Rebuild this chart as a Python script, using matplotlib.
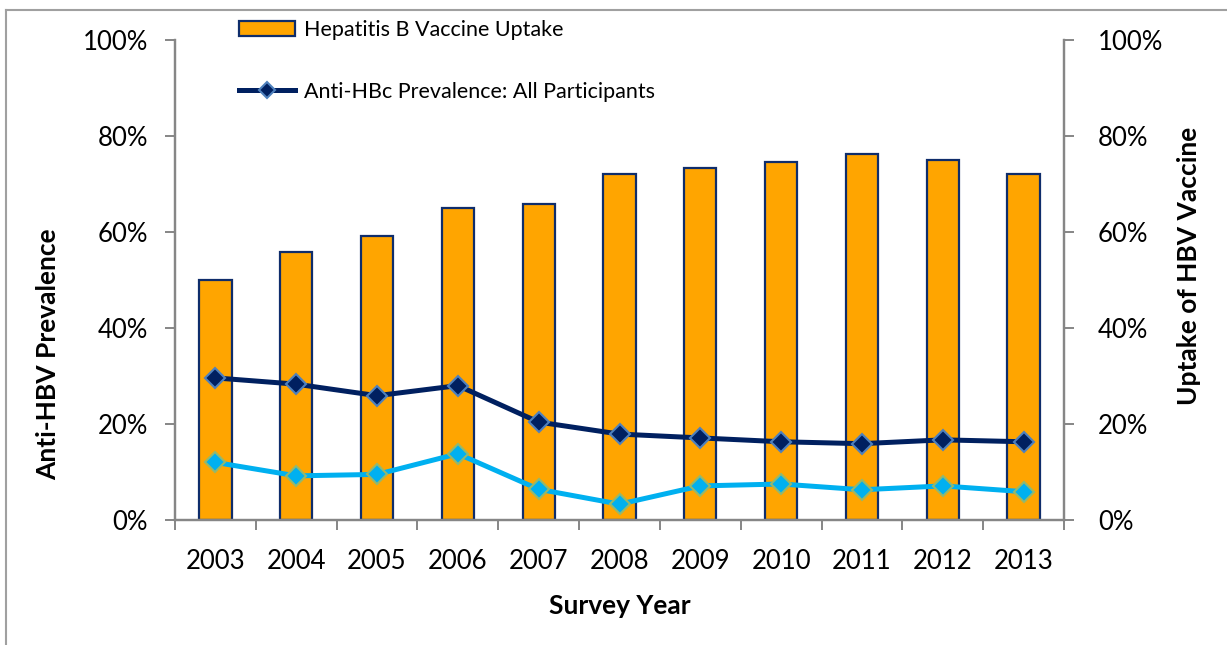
import matplotlib
matplotlib.use("Agg")
import matplotlib.pyplot as plt
from matplotlib.lines import Line2D
from matplotlib.patches import Patch
from matplotlib.ticker import PercentFormatter, FixedLocator
import numpy as np

plt.rcParams['font.family'] = ['Lato', 'DejaVu Sans']

years = ['2003', '2004', '2005', '2006', '2007', '2008', '2009', '2010', '2011', '2012', '2013']
vaccine_uptake = [50.0, 55.8, 59.2, 65.0, 65.9, 72.1, 73.3, 74.6, 76.2, 75.0, 72.1]
anti_hbc_all = [29.6, 28.3, 25.9, 28.0, 20.4, 17.9, 17.1, 16.3, 15.9, 16.7, 16.3]
anti_hbc_other = [12.0, 9.2, 9.5, 13.8, 6.4, 3.3, 7.1, 7.5, 6.3, 7.1, 5.9]

W, H = 1227, 645
fig = plt.figure(figsize=(W / 100, H / 100), dpi=100)
ax = fig.add_axes([175 / W, 1 - 520 / H, (1064 - 175) / W, (520 - 40) / H])
ax2 = ax.twinx()

x = np.arange(len(years))
ax2.bar(x, vaccine_uptake, width=0.4, color='#FFA500', edgecolor='#0F2D6B', linewidth=1.6, zorder=1)

ax.set_zorder(ax2.get_zorder() + 1)
ax.patch.set_visible(False)
ax.plot(x, anti_hbc_all, color='#002060', linewidth=3.6, marker='D', markersize=10,
        markerfacecolor='#002060', markeredgecolor='#4F81BD', markeredgewidth=1.5, zorder=3)
ax.plot(x, anti_hbc_other, color='#00B0F0', linewidth=3.6, marker='D', markersize=10,
        markerfacecolor='#00B0F0', markeredgecolor='#93B86E', markeredgewidth=1.5, zorder=3)

for a, pad in ((ax, 12.5), (ax2, 17.5)):
    a.set_ylim(0, 100)
    a.set_xlim(-0.5, len(years) - 0.5)
    a.yaxis.set_major_locator(FixedLocator([0, 20, 40, 60, 80, 100]))
    a.yaxis.set_major_formatter(PercentFormatter(decimals=0))
    for s in a.spines.values():
        s.set_color('#868686')
        s.set_linewidth(1.6)
    a.spines['top'].set_visible(False)
    a.tick_params(axis='y', colors='#868686', labelcolor='black', labelsize=18.5,
                  length=7, width=1.4, direction='out', pad=pad)

ax.set_xticks(x)
ax.set_xticklabels(years)
ax.set_xticks(np.arange(-0.5, len(years), 1.0), minor=True)
ax.tick_params(axis='x', which='major', length=0, labelsize=18.5, pad=21)
ax.tick_params(axis='x', which='minor', length=7, width=1.4, colors='#868686', direction='out')

ax.set_xlabel('Survey Year', fontsize=19, fontweight='bold', labelpad=14)
ax.set_ylabel('Anti-HBV Prevalence', fontsize=19, fontweight='bold')
ax.yaxis.set_label_coords(-0.1295, 0.345)
ax2.set_ylabel('Uptake of HBV Vaccine', fontsize=19, fontweight='bold')
ax2.yaxis.set_label_coords(1.127, 0.53)

handles = [Patch(facecolor='#FFA500', edgecolor='#0F2D6B', linewidth=1.6),
           Line2D([0], [0], color='#002060', linewidth=3.6, marker='D', markersize=8,
                  markerfacecolor='#002060', markeredgecolor='#4F81BD', markeredgewidth=1.5)]
labels = ['Hepatitis B Vaccine Uptake', 'Anti-HBc Prevalence: All Participants']
fig.legend(handles, labels, loc='upper left', bbox_to_anchor=(230 / W, 1 - 11 / H),
           frameon=False, fontsize=15.5, labelspacing=1.95, handlelength=2.6,
           handletextpad=0.45, borderaxespad=0)

fig.add_artist(Line2D([6 / W, 6 / W], [0, 1 - 10 / H], transform=fig.transFigure,
                      color='#A0A0A0', linewidth=1.5))
fig.add_artist(Line2D([6 / W, 1], [1 - 10 / H, 1 - 10 / H], transform=fig.transFigure,
                      color='#A0A0A0', linewidth=1.5))

fig.savefig('out.png', dpi=100)
